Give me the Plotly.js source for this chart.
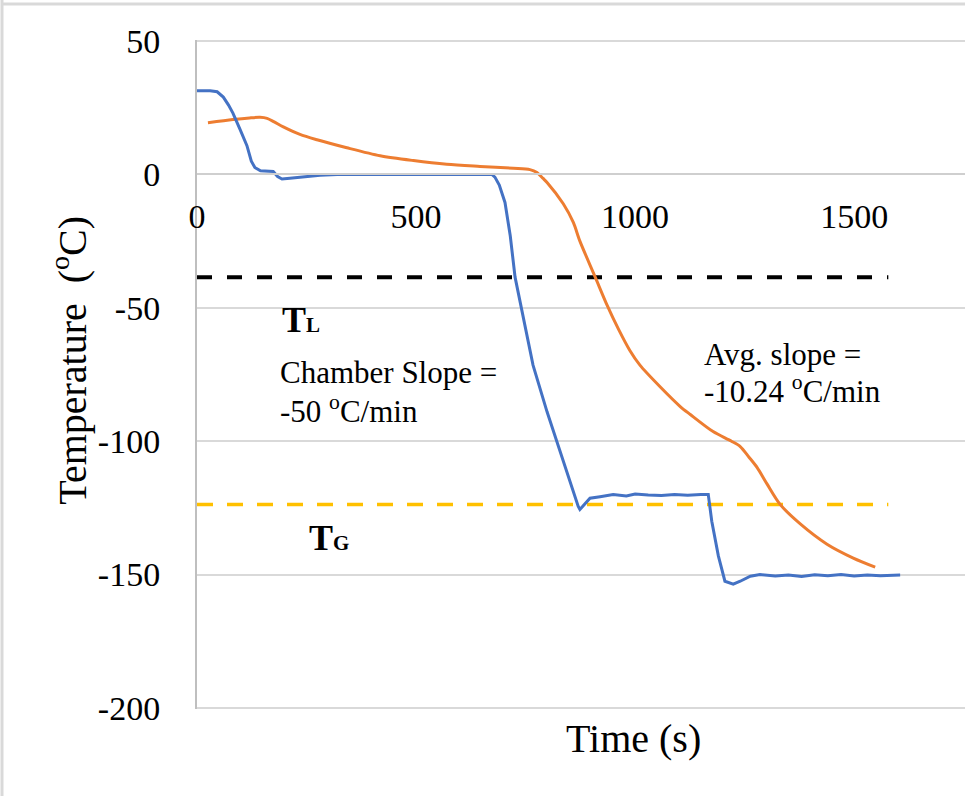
<!DOCTYPE html>
<html>
<head>
<meta charset="utf-8">
<script src="https://cdn.plot.ly/plotly-3.0.1.min.js"></script>
<style>html,body{margin:0;padding:0;background:#fff;}#chart{width:965px;height:796px;}</style>
</head>
<body>
<div id="chart"></div>
<script>
// Chamber (blue) series
const chamberTime = [0,30,46,60,72,82,98,114,124,132,145,160,174,184,194,212,240,281,320,400,500,600,673,680,690,703,715,726,742,767,799,829,852,870,874,885,897,920,950,980,1000,1030,1060,1090,1120,1150,1167,1175,1190,1205,1224,1240,1263,1285,1320,1350,1380,1410,1440,1470,1500,1530,1560,1605];
const chamberTemp = [31.4,31.4,31,29,26,23,17,10.8,5,2.6,1.4,1.1,1.1,-0.8,-1.7,-1.4,-0.9,-0.3,0,0.1,0,0,0,-1,-4,-10.5,-23,-38.5,-51.6,-71.5,-89,-104,-115,-124.4,-125.6,-123.5,-121.4,-120.8,-120,-120.5,-119.8,-120.2,-120.4,-120,-120.3,-120,-120,-130,-143,-152.5,-153.6,-152.5,-150.6,-150,-150.5,-150.2,-150.7,-150.1,-150.4,-150,-150.5,-150.2,-150.4,-150.2];
// Sample (orange) series
const sampleTime = [25,82,120,144,160,175,197,235,274,342,418,494,570,646,722,760,776,790,799,836,859,874,909,936,962,988,1011,1057,1103,1126,1178,1220,1240,1260,1279,1301,1331,1377,1438,1498,1548];
const sampleTemp = [19.4,20.6,21.2,21.4,21,19.8,17.8,15,13,10,7,5.2,3.8,3,2.3,1.8,0.7,-1.5,-3,-11,-18,-25,-38.5,-49,-58,-66,-71.5,-79.6,-87,-90,-96.4,-100,-102,-106,-110,-116,-123.7,-131,-138.6,-143.8,-147.2];
// Reference temperatures
const TL = -38.5;
const TG = -123.7;
const refTime = [0, 1578];
const xTicks = [0, 500, 1000, 1500];
const yTicks = [-200, -150, -100, -50, 0, 50];

const serif = 'Liberation Serif';

const traces = [
  {x: refTime, y: [TL, TL], mode: 'lines', line: {color: '#000000', width: 4, dash: '15px,15px'}, hoverinfo: 'skip'},
  {x: refTime, y: [TG, TG], mode: 'lines', line: {color: '#FFC000', width: 3.5, dash: '16px,14px'}, hoverinfo: 'skip'},
  {x: sampleTime, y: sampleTemp, mode: 'lines', line: {color: '#ED7D31', width: 3, shape: 'spline', smoothing: 0.8}},
  {x: chamberTime, y: chamberTemp, mode: 'lines', line: {color: '#4472C4', width: 3}}
];

const layout = {
  width: 965, height: 796,
  margin: {l: 197, r: 0, t: 40, b: 87},
  paper_bgcolor: '#ffffff', plot_bgcolor: '#ffffff',
  showlegend: false,
  font: {family: serif, color: '#000000'},
  xaxis: {
    range: [0, 1753], tickvals: xTicks, ticktext: xTicks.map(String),
    showgrid: false, zeroline: false,
    showline: true, linecolor: '#CFCFCF', linewidth: 2,
    anchor: 'free', position: 0.8,
    ticks: '', ticklabelstandoff: 12,
    tickfont: {family: serif, size: 34, color: '#000000'}
  },
  yaxis: {
    range: [-200.4, 50.4], tickvals: yTicks, ticktext: yTicks.map(String),
    showgrid: true, gridcolor: '#D9D9D9', gridwidth: 2,
    zeroline: false, showline: true, linecolor: '#BFBFBF', linewidth: 2,
    ticks: '', ticklabelstandoff: 28,
    tickfont: {family: serif, size: 34, color: '#000000'}
  },
  shapes: [
    {type: 'line', xref: 'paper', yref: 'paper', x0: -0.2526, x1: 1.2, y0: 1.0538, y1: 1.0538, line: {color: '#D9D9D9', width: 3}},
    {type: 'line', xref: 'paper', yref: 'paper', x0: -0.2539, x1: -0.2539, y0: -0.2, y1: 1.06, line: {color: '#D9D9D9', width: 3}}
  ],
  annotations: [
    {xref: 'paper', yref: 'paper', x: -0.1654, y: 0.522, text: 'Temperature\u00A0\u00A0(<sup>o</sup>C)', textangle: -90, showarrow: false, xanchor: 'center', yanchor: 'middle', font: {family: serif, size: 40, color: '#000'}},
    {xref: 'paper', yref: 'paper', x: 0.569, y: -0.0448, text: 'Time (s)', showarrow: false, xanchor: 'center', yanchor: 'middle', font: {family: serif, size: 40, color: '#000'}},
    {xref: 'x', yref: 'y', x: 190, y: -54.6, text: '<b>T<span style="font-size:21px">L</span></b>', showarrow: false, xanchor: 'left', yanchor: 'middle', font: {family: serif, size: 36, color: '#000'}},
    {xref: 'x', yref: 'y', x: 250, y: -136.3, text: '<b>T<span style="font-size:21px">G</span></b>', showarrow: false, xanchor: 'left', yanchor: 'middle', font: {family: serif, size: 36, color: '#000'}},
    {xref: 'x', yref: 'y', x: 185, y: -74.3, text: 'Chamber Slope =', showarrow: false, xanchor: 'left', yanchor: 'middle', font: {family: serif, size: 31, color: '#000'}},
    {xref: 'x', yref: 'y', x: 185, y: -88.3, text: '-50 <sup>o</sup>C/min', showarrow: false, xanchor: 'left', yanchor: 'middle', font: {family: serif, size: 31, color: '#000'}},
    {xref: 'x', yref: 'y', x: 1153, y: -67.4, text: 'Avg. slope =', showarrow: false, xanchor: 'left', yanchor: 'middle', font: {family: serif, size: 31, color: '#000'}},
    {xref: 'x', yref: 'y', x: 1153, y: -80.8, text: '-10.24 <sup>o</sup>C/min', showarrow: false, xanchor: 'left', yanchor: 'middle', font: {family: serif, size: 31, color: '#000'}}
  ]
};

Plotly.newPlot('chart', traces, layout, {staticPlot: true, displayModeBar: false});
</script>
</body>
</html>
